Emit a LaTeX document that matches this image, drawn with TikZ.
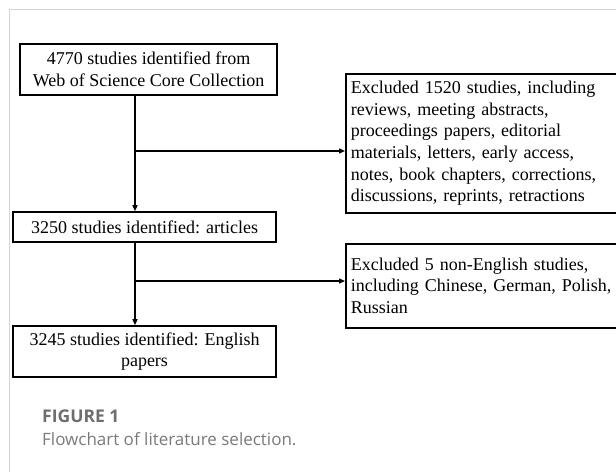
\documentclass[tikz,border=0pt]{standalone}
\usepackage{fontspec}
\setmainfont{Liberation Serif}
\newfontfamily\capfont{Open Sans}
\usetikzlibrary{arrows.meta}
\definecolor{framegray}{HTML}{D3D3D3}
\definecolor{capgray}{HTML}{6E6E6E}
\definecolor{captxt}{HTML}{7A7A7A}
\begin{document}
\begin{tikzpicture}[x=1pt,y=-1pt,
  box/.style={draw=black, line width=1.6pt, font=\fontsize{18}{21.7}\selectfont, inner sep=0pt, align=center},
  sidebox/.style={box, anchor=north west, minimum width=280, text width=270, inner xsep=5pt, align=left},
  conn/.style={line width=1.3pt, -{Triangle[length=6pt,width=5pt]}}]
\useasboundingbox (0,0) rectangle (616,472);
\clip (0,0) rectangle (616,472);
\fill[white] (0,0) rectangle (616,472);
\draw[framegray, line width=1pt] (9.5,472) -- (9.5,9.5) -- (616,9.5);

\node[box, minimum width=257, minimum height=51] (b1) at (148.5,69.5) {4770 studies identified from\\Web of Science Core Collection};
\node[box, minimum width=263, minimum height=30] (b2) at (144.5,227) {3250 studies identified: articles};
\node[box, minimum width=263, minimum height=51] (b3) at (144.5,351.5) {3245 studies identified: English\\papers};

\node[sidebox, minimum height=139] (r1) at (345,73) {Excluded 1520 studies, including\\reviews, meeting abstracts,\\proceedings papers, editorial\\materials, letters, early access,\\notes, book chapters, corrections,\\discussions, reprints, retractions};
\node[sidebox, minimum height=84] (r2) at (345,243) {Excluded 5 non-English studies,\\including Chinese,\hspace{6pt}German, Polish,\\Russian};

\coordinate (j1) at (135,151);
\coordinate (j2) at (135,281);
\draw[conn] (b1.south -| j1) -- (b2.north -| j1);
\draw[conn] (j1) -- (r1.west |- j1);
\draw[conn] (b2.south -| j2) -- (b3.north -| j2);
\draw[conn] (j2) -- (r2.west |- j2);

\node[anchor=base west, inner sep=0pt, font=\capfont\bfseries\fontsize{17.5}{20}\selectfont, text=capgray] (fig) at (42,422) {FIGURE 1};
\node[anchor=base west, inner sep=0pt, font=\capfont\fontsize{17}{20}\selectfont, text=captxt] (cap) at (42,445) {Flowchart of literature selection.};
\end{tikzpicture}
\end{document}
